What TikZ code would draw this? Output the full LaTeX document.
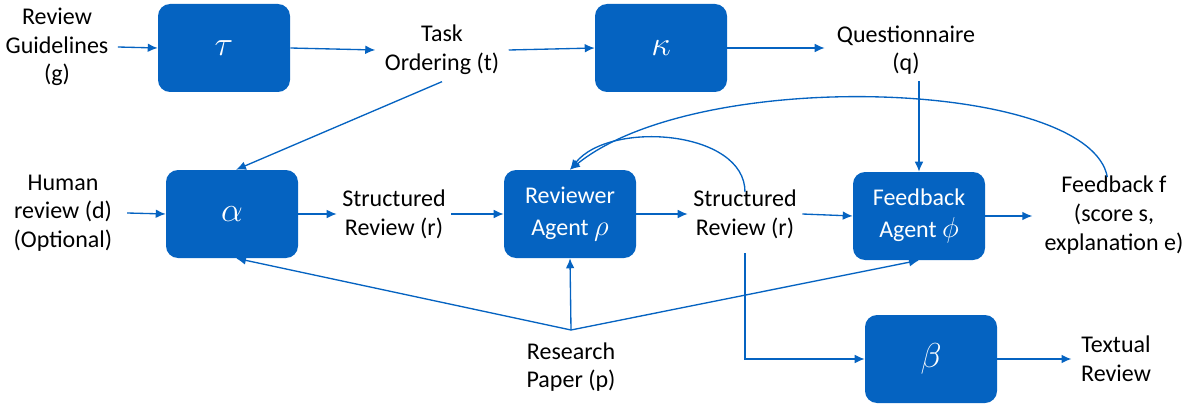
\documentclass[tikz,border=0pt]{standalone}
\usepackage{fontspec}
\setmainfont{Carlito}
\usetikzlibrary{arrows.meta}
\definecolor{boxblue}{RGB}{5,99,193}
\newcommand{\bigsym}[1]{\scalebox{1.5}{$#1$}}

\begin{document}
\begin{tikzpicture}[x=0.75pt,y=-0.75pt,
	box/.style={draw=none,fill=boxblue,rounded corners=9pt,minimum width=99pt,minimum height=66pt,text=white,align=center,font=\fontsize{18}{24}\selectfont},
	lbl/.style={align=center,font=\fontsize{18}{21.5}\selectfont,inner sep=1pt},
	arr/.style={draw=boxblue,line width=1pt,-{Latex[length=7.5pt,width=6.5pt]}}]
	%%%%% START %%%%%
	\useasboundingbox (0,0) rectangle (1189,410);
	
	\node[box] (tau) at (224,48) {\bigsym{\tau}};
	\node[box] (kappa) at (661,48) {\bigsym{\kappa}};
	\node[box] (alpha) at (232,214) {\bigsym{\alpha}};
	\node[box] (rho) at (570,214) {Reviewer\\Agent \scalebox{1.25}{$\rho$}};
	\node[box] (phi) at (919,216) {Feedback\\Agent \scalebox{1.25}{$\phi$}};
	\node[box] (beta) at (931,359) {\bigsym{\beta}};
	
	\node[lbl] (g) at (57,47) {Review\\Guidelines\\(g)};
	\node[lbl] (t) at (442,50) {Task\\Ordering (t)};
	\node[lbl] (q) at (906,50) {Questionnaire\\(q)};
	\node[lbl] (d) at (63,213) {Human\\review (d)\\(Optional)};
	\node[lbl] (r1) at (394,214) {Structured\\Review (r)};
	\node[lbl] (r2) at (745,214) {Structured\\Review (r)};
	\node[lbl] (f) at (1114,215) {Feedback f\\(score s,\\explanation e)};
	\node[lbl] (p) at (571,367) {Research\\Paper (p)};
	\node[lbl] (tr) at (1116,359) {Textual\\Review};
	
	\coordinate (pjoin) at (571,330);
	
	% top row
	\draw[arr] (g.east) ++(6pt,0) -- (tau.west);
	\draw[arr] (tau.east) -- ([xshift=-6pt]t.west);
	\draw[arr] ([xshift=6pt]t.east) -- (kappa.west);
	\draw[arr] (kappa.east) -- ([xshift=-8pt]q.west |- kappa.east);
	\draw[arr] ([yshift=-4pt]t.south) -- ([xshift=3pt]alpha.north);
	\draw[arr] ([yshift=-4pt]phi.north |- q.south) -- (phi.north);
	
	% middle row
	\draw[arr] ([xshift=10pt]d.east) -- (alpha.west);
	\draw[arr] (alpha.east) -- ([xshift=-3pt]r1.west);
	\draw[arr] ([xshift=3pt]r1.east) -- (rho.west);
	\draw[arr] (rho.east) -- ([xshift=-3pt]r2.west);
	\draw[arr] ([xshift=3pt]r2.east) -- (phi.west);
	\draw[arr] (phi.east) -- ([xshift=-8pt]f.west |- phi.east);
	
	% feedback loops
	\draw[arr] ([xshift=-5pt,yshift=-2pt]f.north) .. controls (1090,80) and (700,65) .. (rho.north);
	\draw[arr] ([yshift=-3pt]r2.north) .. controls (745,130) and (610,120) .. (rho.north);
	
	% paper
	\draw[arr] (pjoin) -- ([xshift=3pt]alpha.south);
	\draw[arr] (pjoin) -- (rho.south);
	\draw[arr] (pjoin) -- (phi.south);
	
	% textual review
	\draw[arr] ([yshift=-10pt]r2.south) |- (beta.west);
	\draw[arr] (beta.east) -- ([xshift=-6pt]tr.west);
	%%%%% END %%%%%
\end{tikzpicture}
\end{document}
